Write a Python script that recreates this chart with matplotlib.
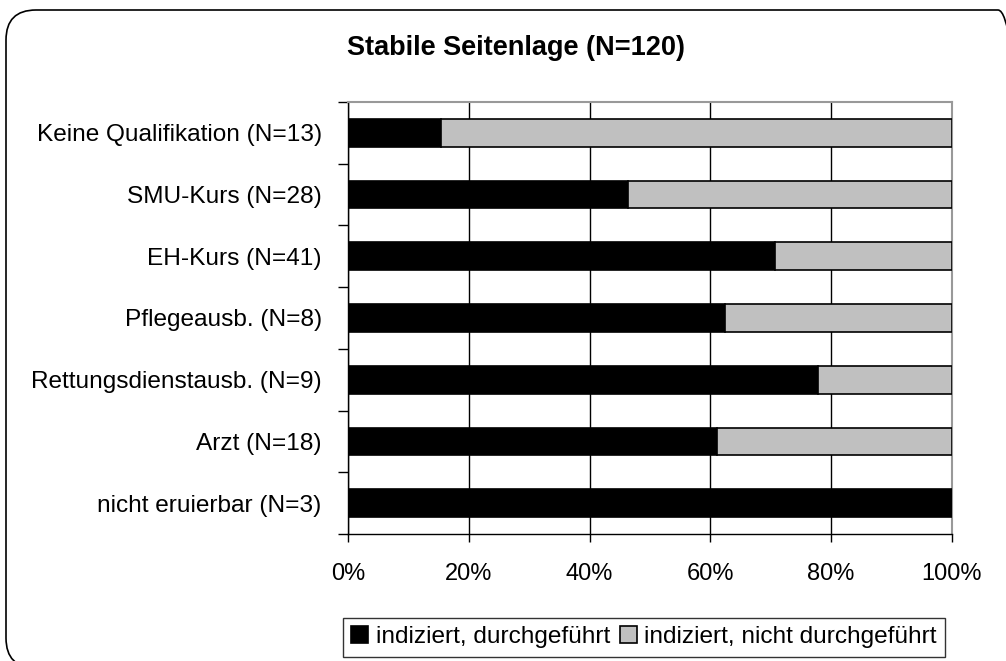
import matplotlib.pyplot as plt
from matplotlib.patches import FancyBboxPatch
import numpy as np

plt.rcParams['font.family'] = ['Liberation Sans', 'DejaVu Sans']

categories = ['Keine Qualifikation (N=13)', 'SMU-Kurs (N=28)', 'EH-Kurs (N=41)',
              'Pflegeausb. (N=8)', 'Rettungsdienstausb. (N=9)', 'Arzt (N=18)',
              'nicht eruierbar (N=3)']
durchgefuehrt = [15.4, 46.4, 70.7, 62.5, 77.8, 61.1, 100.0]
nicht_durchgefuehrt = [84.6, 53.6, 29.3, 37.5, 22.2, 38.9, 0.0]
x_ticks = [0, 20, 40, 60, 80, 100]

fig = plt.figure(figsize=(10.06, 6.61), dpi=100)
ax = fig.add_axes([0.346, 0.192, 0.6, 0.654])

# abgerundeter Rahmen (in Zoll), rechts und unten abgeschnitten wie im Original
fig.patches.append(FancyBboxPatch((0.06, -0.07), 10.22, 6.58, boxstyle='round,pad=0,rounding_size=0.3',
                                  transform=fig.dpi_scale_trans, fill=False, edgecolor='black', lw=1.2,
                                  clip_on=False))

y = np.arange(len(categories))
ax.barh(y, durchgefuehrt, height=0.45, color='black', edgecolor='black', lw=1.2,
        label='indiziert, durchgeführt', zorder=3)
ax.barh(y, nicht_durchgefuehrt, left=durchgefuehrt, height=0.45, color='#c0c0c0',
        edgecolor='black', lw=1.2, label='indiziert, nicht durchgeführt', zorder=3)

ax.set_xlim(0, 100)
ax.set_ylim(len(categories) - 0.5, -0.5)
ax.set_xticks(x_ticks)
ax.set_xticklabels([f'{t}%' for t in x_ticks], fontsize=17)
ax.set_yticks(y)
ax.set_yticklabels(categories, fontsize=17.6)
ax.tick_params(axis='y', length=0, pad=19)
ax.set_yticks(np.arange(len(categories) + 1) - 0.5, minor=True)
ax.tick_params(axis='y', which='minor', length=7, width=1)
ax.tick_params(axis='x', length=6, width=1, pad=15)
ax.grid(axis='x', color='black', lw=1, zorder=0)

for s in ['top', 'right']:
    ax.spines[s].set_color('#999999')
    ax.spines[s].set_linewidth(1.5)
for s in ['left', 'bottom']:
    ax.spines[s].set_color('black')
    ax.spines[s].set_linewidth(1.0)

fig.text(0.5125, 0.927, 'Stabile Seitenlage (N=120)', ha='center', va='center',
         fontsize=19.5, fontweight='bold')

leg = fig.legend(loc='center', bbox_to_anchor=(0.64, 0.036), ncol=2, fontsize=17.6,
                 frameon=True, fancybox=False, edgecolor='black', handlelength=0.7,
                 handleheight=0.7, handletextpad=0.3, columnspacing=0.4, borderpad=0.35)
leg.get_frame().set_linewidth(1.0)

fig.savefig('out.png', dpi=100)
